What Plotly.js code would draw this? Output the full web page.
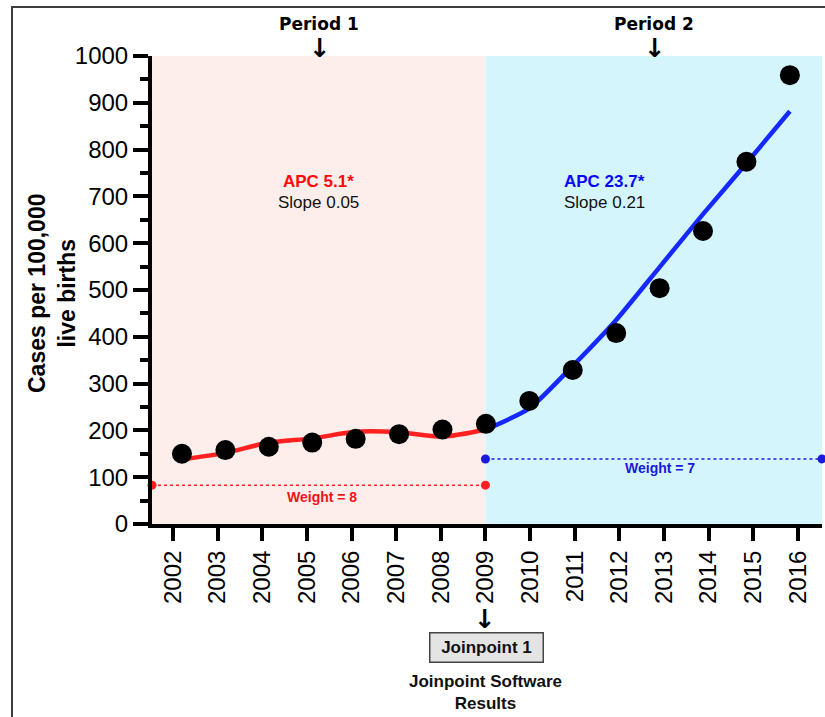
<!DOCTYPE html>
<html><head><meta charset="utf-8">
<script src="https://cdn.plot.ly/plotly-3.0.1.min.js"></script>
<style>
html,body{margin:0;padding:0;background:#fff;overflow:hidden;width:825px;height:717px;}
#frame{position:absolute;left:11px;top:6px;width:900px;height:800px;border:2px solid #3c3c3c;}
#chart{position:absolute;left:0;top:0;width:825px;height:717px;}
</style></head><body>
<div id="frame"></div>
<div id="chart"></div>
<script>
// ---- data ----
const years = [2002,2003,2004,2005,2006,2007,2008,2009,2010,2011,2012,2013,2014,2015,2016];
const observed = [150,158,165,174,182,192,202,214,263,329,408,504,626,774,959];
const fitYears1 = [2002,2003,2004,2005,2006,2007,2008,2009];
const fit1 = [138,152,174,183,197,196,187,202];
const fitYears2 = [2009,2010,2011,2012,2013,2014,2015,2016];
const fit2 = [202,247,338,436,549,662,771,882];
const tickLabels = years.map(String);
const joinpointYear = 2009;
const weightLevels = [83, 139];
const weightLabels = ['Weight = 8', 'Weight = 7'];
const apcLabels = ['APC 5.1*', 'APC 23.7*'];
const slopeLabels = ['Slope 0.05', 'Slope 0.21'];
const periodLabels = ['Period 1', 'Period 2'];
const joinpointLabel = 'Joinpoint 1';
const footerLabel = 'Joinpoint Software<br>Results';
const yTitle = 'Cases per 100,000<br>live births';

// ---- layout constants ----
const W = 825, H = 717;
const mL = 152, mR = 3, mT = 56, mB = 193;
const xRange = [2001.53, 2016.54];
const xDataRange = [2001.31, 2016.74];
const plotH = H - mT - mB;
const py = p => (H - mB - p) / plotH; // pixel y -> paper y
const px = p => (p - mL) / (W - mL - mR); // pixel x -> paper x
const pinkC = '#fdeeec', cyanC = '#d4f5fc';
const red = '#ff2020', blue = '#1428ff';
const sans = 'Liberation Sans, Arial, sans-serif';
const dv = 'DejaVu Sans, Verdana, sans-serif';

const traces = [
  {x: [xRange[0], joinpointYear], y: [weightLevels[0], weightLevels[0]], xaxis: 'x', yaxis: 'y',
   mode: 'lines+markers', line: {color: red, width: 1.5, dash: 'dot'}, marker: {color: red, size: 9},
   cliponaxis: false, hoverinfo: 'skip'},
  {x: [joinpointYear, xRange[1]], y: [weightLevels[1], weightLevels[1]], xaxis: 'x', yaxis: 'y',
   mode: 'lines+markers', line: {color: '#1a1add', width: 1.5, dash: 'dot'}, marker: {color: '#1a1add', size: 9},
   cliponaxis: false, hoverinfo: 'skip'},
  {x: fitYears1, y: fit1, xaxis: 'x2', yaxis: 'y', mode: 'lines',
   line: {color: red, width: 4.5, shape: 'spline', smoothing: 0.8}, hoverinfo: 'skip'},
  {x: fitYears2, y: fit2, xaxis: 'x2', yaxis: 'y', mode: 'lines',
   line: {color: blue, width: 4.5, shape: 'spline', smoothing: 0.6}, hoverinfo: 'skip'},
  {x: years, y: observed, xaxis: 'x2', yaxis: 'y', mode: 'markers',
   marker: {color: '#000', size: 20}, cliponaxis: false}
];

const jpPx = mL + (joinpointYear - xRange[0]) / (xRange[1] - xRange[0]) * (W - mL - mR);
const c1 = (mL + jpPx) / 2, c2 = (jpPx + W - mR) / 2;
const ann = [];
function A(o){ ann.push(Object.assign({xref: 'paper', yref: 'paper', showarrow: false, xanchor: 'center', yanchor: 'middle'}, o)); }
A({x: px(c1), y: py(24), text: '<b>' + periodLabels[0] + '</b>', font: {family: dv, size: 17, color: '#000'}});
A({x: px(c1 + 1), y: py(48), text: '<b>↓</b>', font: {family: dv, size: 26, color: '#000'}});
A({x: px(c2), y: py(24), text: '<b>' + periodLabels[1] + '</b>', font: {family: dv, size: 17, color: '#000'}});
A({x: px(c2 + 1), y: py(48), text: '<b>↓</b>', font: {family: dv, size: 26, color: '#000'}});
A({x: px(c1), y: py(181), text: '<b>' + apcLabels[0] + '</b>', font: {family: sans, size: 17, color: '#ff0a0a'}});
A({x: px(c1), y: py(202), text: slopeLabels[0], font: {family: sans, size: 17, color: '#111'}});
A({x: px(604), y: py(181), text: '<b>' + apcLabels[1] + '</b>', font: {family: sans, size: 17, color: '#0a0af0'}});
A({x: px(604), y: py(202), text: slopeLabels[1], font: {family: sans, size: 17, color: '#111'}});
A({x: px(322), y: py(497), text: '<b>' + weightLabels[0] + '</b>', font: {family: sans, size: 14, color: '#f01414'}});
A({x: px(660), y: py(468), text: '<b>' + weightLabels[1] + '</b>', font: {family: sans, size: 14, color: '#1a1add'}});
A({x: px(jpPx), y: py(619), text: '<b>↓</b>', font: {family: dv, size: 26, color: '#000'}});
A({x: px(486), y: py(647.5), text: '<b>' + joinpointLabel + '</b>', font: {family: sans, size: 17, color: '#111'},
   bgcolor: '#e4e4e4', bordercolor: '#444', borderwidth: 1.5, borderpad: 3, width: 106, height: 22});
A({x: px(485), y: py(692), text: '<b>' + footerLabel + '</b>', font: {family: sans, size: 17, color: '#111'}});
A({x: px(52), y: py(293), text: '<b>' + yTitle + '</b>', textangle: -90, font: {family: sans, size: 23, color: '#000'}});

const layout = {
  width: W, height: H,
  margin: {l: mL, r: mR, t: mT, b: mB, pad: 0},
  paper_bgcolor: 'rgba(0,0,0,0)', plot_bgcolor: 'rgba(0,0,0,0)',
  showlegend: false,
  xaxis: {range: xRange, tickmode: 'array', tickvals: years, ticktext: tickLabels, tickangle: -90,
    ticks: 'outside', ticklen: 13, tickwidth: 4, tickcolor: '#000',
    showline: true, linewidth: 4, linecolor: '#000', showgrid: false, zeroline: false,
    tickfont: {family: sans, size: 24, color: '#000'}, fixedrange: true},
  xaxis2: {range: xDataRange, overlaying: 'x', anchor: 'y', visible: false, fixedrange: true},
  yaxis: {range: [0, 1000], tick0: 0, dtick: 100,
    ticks: 'outside', ticklen: 15, tickwidth: 4, tickcolor: '#000',
    minor: {dtick: 50, tick0: 0, ticks: 'outside', ticklen: 8, tickwidth: 4, tickcolor: '#000'},
    showline: true, linewidth: 4, linecolor: '#000', showgrid: false, zeroline: false,
    tickfont: {family: sans, size: 24, color: '#000'}, fixedrange: true},
  shapes: [
    {type: 'rect', layer: 'below', xref: 'x', yref: 'y', x0: xRange[0], x1: joinpointYear, y0: 0, y1: 1000,
     fillcolor: pinkC, line: {width: 0}},
    {type: 'rect', layer: 'below', xref: 'x', yref: 'y', x0: joinpointYear, x1: xRange[1], y0: 0, y1: 1000,
     fillcolor: cyanC, line: {width: 0}}
  ],
  annotations: ann
};
Plotly.newPlot('chart', traces, layout, {displayModeBar: false, staticPlot: true});
</script>
</body></html>
